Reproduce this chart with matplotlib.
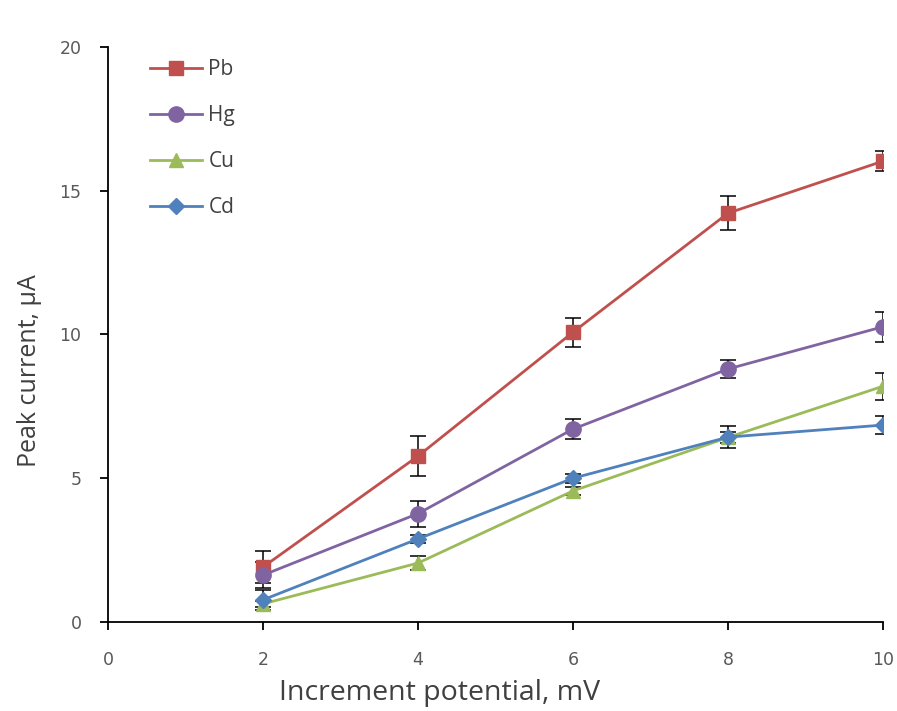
import numpy as np
import matplotlib
matplotlib.use('Agg')
import matplotlib.pyplot as plt

# increment potential (mV)
potential = [2, 4, 6, 8, 10]

# peak currents (uA) and their standard deviations
pb = [1.91, 5.77, 10.08, 14.22, 16.03]
pb_err = [0.55, 0.70, 0.50, 0.60, 0.35]

hg = [1.63, 3.77, 6.71, 8.80, 10.27]
hg_err = [0.45, 0.45, 0.35, 0.30, 0.52]

cu = [0.63, 2.05, 4.56, 6.42, 8.20]
cu_err = [0.10, 0.25, 0.15, 0.20, 0.47]

cd = [0.77, 2.89, 5.00, 6.43, 6.85]
cd_err = [0.35, 0.15, 0.15, 0.38, 0.30]

series = [
    ('Pb', pb, pb_err, '#C0504D', 's', 10),
    ('Hg', hg, hg_err, '#8064A2', 'o', 11),
    ('Cu', cu, cu_err, '#9BBB59', '^', 10),
    ('Cd', cd, cd_err, '#4F81BD', 'D', 8),
]

fig = plt.figure(figsize=(8.97, 7.11), dpi=100)
ax = fig.add_axes([0.1204, 0.1252, 0.8640, 0.8087])

for name, y, err, col, mk, ms in series:
    ax.errorbar(potential, y, yerr=err, fmt='none', ecolor='black',
                elinewidth=1.1, capsize=6, capthick=1.1, zorder=2)
    ax.plot(potential, y, color=col, marker=mk, ms=ms, lw=2,
            label=name, zorder=3)

ax.set_xlim(0, 10)
ax.set_ylim(0, 20)
ax.set_xticks(np.arange(0, 11, 2))
ax.set_yticks(np.arange(0, 21, 5))

for s in ['top', 'right']:
    ax.spines[s].set_visible(False)
for s in ['left', 'bottom']:
    ax.spines[s].set_linewidth(1.3)
    ax.spines[s].set_color('black')

ax.tick_params(axis='both', direction='out', length=6, width=1.3,
               labelsize=12.5, labelcolor='#595959')
ax.tick_params(axis='x', pad=15)
ax.tick_params(axis='y', pad=13)

lab_font = {'family': 'Open Sans', 'color': '#404040'}
ax.set_xlabel('Increment potential, mV', fontsize=20.5, **lab_font)
ax.set_ylabel('Peak current, \u03bcA', fontsize=18, **lab_font)
ax.xaxis.set_label_coords(0.428, -0.100)
ax.yaxis.set_label_coords(-0.085, 0.437)

leg = ax.legend(loc='upper left', bbox_to_anchor=(0.03, 1.012), frameon=False,
                prop={'family': 'Open Sans', 'size': 15},
                handlelength=2.5, labelspacing=1.2, handletextpad=0.3)
for t in leg.get_texts():
    t.set_color('#404040')

fig.savefig('out.png', dpi=100)
